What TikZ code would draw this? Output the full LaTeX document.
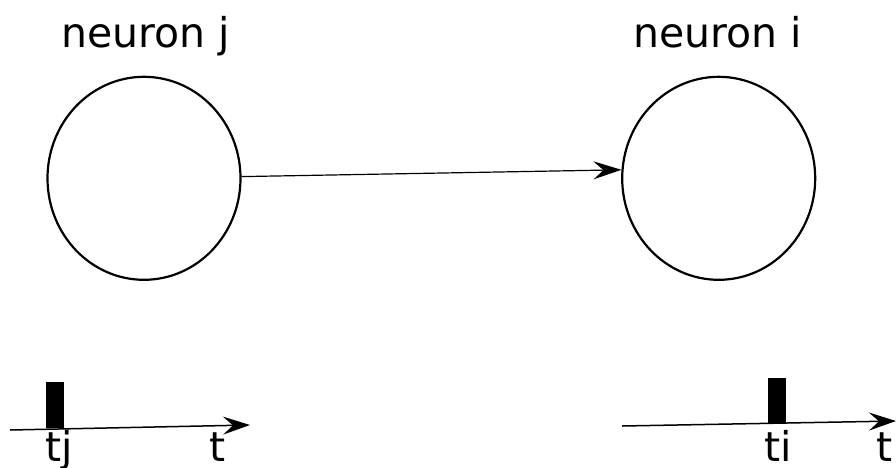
\documentclass[tikz,border=0pt]{standalone}
\usepackage{fontspec}
\setmainfont{DejaVu Sans}
\usetikzlibrary{arrows.meta,shapes.geometric}

\begin{document}
\begin{tikzpicture}[x=1pt,y=-1pt]
	\tikzstyle{every node}+=[inner sep=0pt]
	\tikzstyle{neuron}=[draw=black, line width=2.2pt, ellipse, minimum width=193pt, minimum height=203pt]
	\tikzstyle{label}=[font=\fontsize{41}{48}\selectfont, anchor=base]
	\tikzstyle{spike}=[fill=black, anchor=south, minimum width=18pt, minimum height=46pt]
	\tikzstyle{axis}=[line width=1.5pt, -{Stealth[length=27pt,width=18pt,inset=10pt]}]
	\useasboundingbox (0,0) rectangle (896,467);
	\node [neuron] (nj) at (144,178.3) {};
	\node [neuron] (ni) at (718.7,178.3) {};
	\node [label] (lj) at (146,47) {neuron j};
	\node [label] (li) at (718,47) {neuron i};
	\draw [line width=1.2pt, -{Stealth[length=28pt,width=18pt,inset=10pt]}] (nj.1.9) -- (ni.175.9);
	\coordinate (aj0) at (10,430);
	\coordinate (aj1) at (250,425);
	\coordinate (ai0) at (622,426);
	\coordinate (ai1) at (896,421);
	\draw [axis] (aj0) -- (aj1);
	\draw [axis] (ai0) -- (ai1);
	\node [spike] (sj) at (55,428) {};
	\node [spike] (si) at (777,424) {};
	\node [label] (tj) at (59.5,461) {tj};
	\node [label] (tjt) at (217.5,461) {t};
	\node [label] (ti) at (778.5,461) {ti};
	\node [label] (tit) at (885,461) {t};
\end{tikzpicture}
\end{document}
